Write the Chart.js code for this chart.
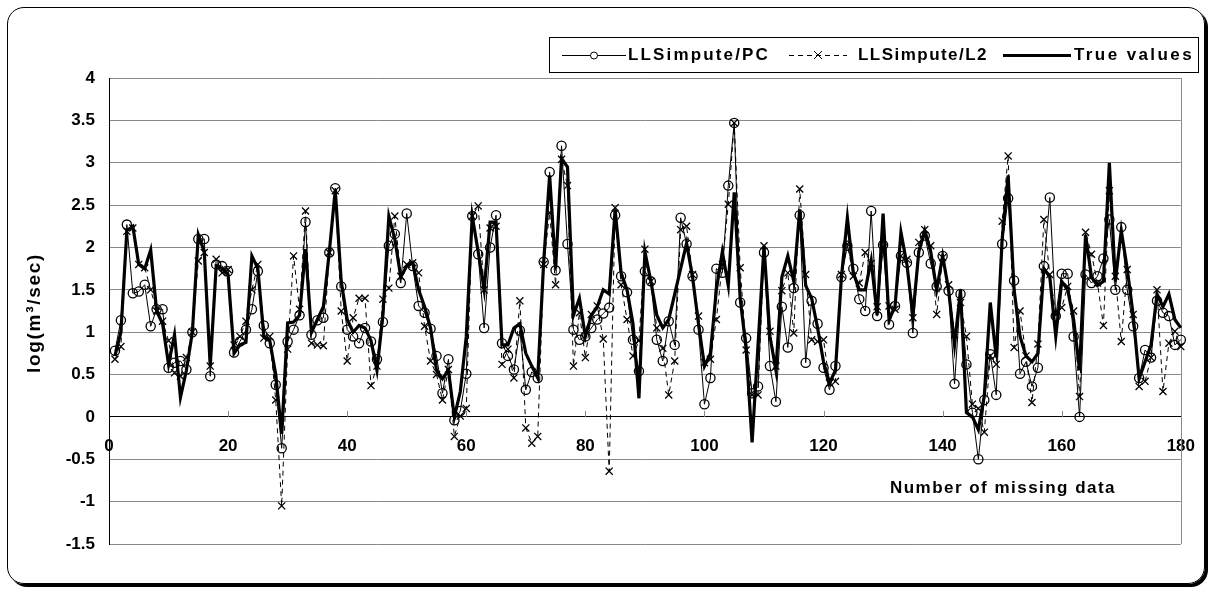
<!DOCTYPE html>
<html>
<head>
<meta charset="utf-8">
<script src="https://cdn.jsdelivr.net/npm/chart.js@4.4.1/dist/chart.umd.min.js"></script>
<style>
  html, body { margin: 0; padding: 0; background: #fff; }
  #frame {
    position: absolute; left: 7px; top: 7px;
    width: 1196px; height: 575px;
    border: 1.5px solid #000; border-radius: 17px;
    box-shadow: 3px 3px 0 #000;
  }
  #myChart { position: absolute; left: 0; top: 0; }
</style>
</head>
<body>
<div id="frame"></div>
<canvas id="myChart" width="1214" height="592"></canvas>
<script>
// values, index 1..181
var trueValues = [
  0.72, 1.0, 2.2, 2.25, 1.8, 1.75, 1.97, 1.25, 1.1, 0.62,
  0.97, 0.23, 0.55, 1.0, 2.15, 1.95, 0.6, 1.78, 1.75, 1.68,
  0.75, 0.85, 0.88, 1.9, 1.75, 0.95, 0.9, 0.5, -0.2, 1.11,
  1.12, 1.2, 1.98, 1.0, 1.15, 1.3, 1.95, 2.68, 1.6, 1.15,
  1.0, 1.08, 1.05, 0.9, 0.55, 1.2, 2.37, 2.1, 1.65, 1.78,
  1.82, 1.5, 1.3, 1.05, 0.55, 0.45, 0.55, 0.0, 0.3, 0.95,
  2.37, 1.95, 1.5, 2.3, 2.3, 0.85, 0.85, 1.05, 1.1, 0.75,
  0.6, 0.46, 1.83, 2.85, 1.75, 3.05, 2.95, 1.2, 1.4, 0.95,
  1.2, 1.3, 1.5, 1.45, 2.45, 1.7, 1.5, 1.1, 0.22, 1.95,
  1.6, 1.2, 1.05, 1.15, 1.45, 1.75, 2.05, 1.65, 1.1, 0.6,
  0.75, 1.5, 1.95, 1.55, 2.65, 1.4, 0.8, -0.3, 0.85, 2.02,
  0.95, 0.55, 1.65, 1.9, 1.6, 2.45, 1.55, 1.4, 1.05, 0.65,
  0.4, 0.55, 1.65, 2.35, 1.7, 1.5, 1.5, 1.85, 1.2, 2.4,
  1.15, 1.3, 2.18, 1.8, 1.2, 1.95, 2.2, 1.95, 1.5, 1.9,
  1.5, 0.85, 1.5, 0.05, 0.0, -0.15, 0.25, 1.35, 0.7, 2.1,
  2.85, 1.5, 0.95, 0.72, 0.65, 0.75, 1.75, 1.65, 0.95, 1.6,
  1.5, 1.15, 0.55, 2.15, 1.65, 1.55, 1.6, 3.0, 1.6, 2.2,
  1.75, 1.2, 0.45, 0.65, 0.85, 1.45, 1.3, 1.45, 1.15, 1.05,
  1.42
];
var pcValues = [
  0.78, 1.14, 2.27, 1.46, 1.48, 1.56, 1.07, 1.27, 1.27, 0.58,
  0.64, 0.66, 0.56, 1.0, 2.1, 2.1, 0.48, 1.8, 1.78, 1.72,
  0.76, 0.89, 1.03, 1.27, 1.72, 1.08, 0.87, 0.38, -0.37, 0.89,
  1.03, 1.2, 2.3, 0.97, 1.14, 1.17, 1.94, 2.7, 1.54, 1.03,
  0.95, 0.87, 1.05, 0.89, 0.68, 1.12, 2.02, 2.16, 1.58, 2.4,
  1.78, 1.31, 1.23, 1.04, 0.72, 0.28, 0.68, -0.04, 0.07, 0.51,
  2.37, 1.92, 1.05, 2.0, 2.38, 0.87, 0.72, 0.56, 1.02, 0.32,
  0.53, 0.46, 1.83, 2.89, 1.73, 3.2, 2.04, 1.03, 0.91, 0.95,
  1.05, 1.15, 1.22, 1.29, 2.38, 1.66, 1.47, 0.91, 0.54, 1.72,
  1.6, 0.91, 0.66, 1.13, 0.85, 2.35, 2.04, 1.66, 1.03, 0.15,
  0.46, 1.75, 1.7, 2.73, 3.47, 1.35, 0.93, 0.28, 0.36, 1.94,
  0.6, 0.18, 1.3, 0.82, 1.52, 2.38, 0.64, 1.37, 1.1, 0.58,
  0.32, 0.6, 1.65, 2.02, 1.75, 1.39, 1.25, 2.43, 1.19, 2.03,
  1.09, 1.31, 1.9, 1.82, 0.99, 1.94, 2.14, 1.81, 1.54, 1.9,
  1.49, 0.39, 1.45, 0.62, 0.05, -0.5, 0.2, 0.74, 0.26, 2.04,
  2.58, 1.61, 0.51, 0.65, 0.36, 0.58, 1.78, 2.59, 1.19, 1.69,
  1.69, 0.95, 0.0, 1.68, 1.58, 1.66, 1.87, 2.33, 1.5, 2.24,
  1.5, 1.07, 0.46, 0.79, 0.7, 1.37, 1.23, 1.19, 0.85, 0.91
];
var l2Values = [
  0.68, 0.83, 2.19, 2.23, 1.8, 1.76, 1.5, 1.25, 1.13, 0.9,
  0.52, 0.48, 0.7, 1.0, 1.84, 1.94, 0.6, 1.86, 1.7, 1.74,
  0.85, 0.95, 1.13, 1.5, 1.8, 0.93, 0.95, 0.2, -1.05, 0.8,
  1.9, 1.27, 2.43, 0.87, 0.85, 0.84, 1.94, 2.67, 1.25, 0.66,
  1.17, 1.4, 1.4, 0.37, 0.6, 1.39, 1.52, 2.37, 1.66, 1.8,
  1.82, 1.7, 1.07, 0.66, 0.5, 0.2, 0.56, -0.23, 0.01, 0.1,
  2.37, 2.49, 1.5, 2.23, 2.25, 0.62, 0.8, 0.46, 1.37, -0.13,
  -0.31, -0.23, 1.8, 2.41, 1.56, 3.04, 2.73, 0.6, 1.23, 0.7,
  1.21, 1.31, 0.92, -0.64, 2.47, 1.56, 1.15, 0.72, 0.9, 1.98,
  1.6, 1.05, 0.81, 0.26, 0.66, 2.21, 2.25, 1.68, 1.19, 0.64,
  0.68, 1.15, 1.8, 2.51, 3.47, 1.76, 0.79, 0.26, 0.26, 2.02,
  1.01, 0.6, 1.49, 1.7, 0.99, 2.69, 1.68, 0.91, 0.89, 0.91,
  0.4, 0.42, 1.68, 2.04, 1.66, 1.58, 1.94, 1.81, 1.3, 2.0,
  1.31, 1.27, 1.9, 1.86, 1.17, 2.06, 2.21, 2.02, 1.21, 1.88,
  1.56, 0.97, 1.35, 0.95, 0.15, 0.1, -0.18, 0.72, 0.62, 2.31,
  3.08, 0.82, 1.25, 0.72, 0.17, 0.86, 2.33, 1.68, 1.21, 1.29,
  1.54, 1.25, 0.24, 2.18, 1.92, 1.58, 1.08, 2.67, 1.66, 0.89,
  1.74, 1.21, 0.36, 0.42, 0.7, 1.5, 0.3, 0.87, 1.01, 0.83,
  0.36
];
var seriesNames = ['LLSimpute/PC', 'LLSimpute/L2', 'True values'];
var xTitle = 'Number of missing data';
var yTitle = 'log(m\u00B3/sec)';

var FONT = '"Liberation Sans", Arial, sans-serif';

function toPoints(vals) {
  return vals.map(function (v, i) { return { x: i + 1, y: v }; });
}

// draws text stretched to a given width (the original font is wide)
function fitText(ctx, s, x, y, w) {
  ctx.letterSpacing = '0px';
  var m = ctx.measureText(s).width;
  ctx.letterSpacing = ((w - m) / s.length) + 'px';
  ctx.fillText(s, x, y);
  ctx.letterSpacing = '0px';
}

var decor = {
  id: 'decor',
  beforeDatasetsDraw: function (chart) {
    var ctx = chart.ctx, a = chart.chartArea;
    var xs = chart.scales.x, ys = chart.scales.y;
    ctx.save();
    ctx.strokeStyle = '#888';
    ctx.lineWidth = 1;
    // right edge of plot area
    ctx.beginPath();
    ctx.moveTo(Math.round(a.right) + 0.5, a.top);
    ctx.lineTo(Math.round(a.right) + 0.5, a.bottom);
    ctx.stroke();
    // small tick marks above the zero line
    var y0 = ys.getPixelForValue(0);
    for (var v = 20; v <= 180; v += 20) {
      var px = Math.round(xs.getPixelForValue(v)) + 0.5;
      ctx.beginPath();
      ctx.moveTo(px, y0 - 6);
      ctx.lineTo(px, y0);
      ctx.stroke();
    }
    ctx.restore();
  },
  afterDraw: function (chart) {
    var ctx = chart.ctx;
    ctx.save();
    ctx.fillStyle = '#000';
    ctx.strokeStyle = '#000';
    ctx.font = 'bold 17px ' + FONT;
    ctx.textBaseline = 'middle';
    ctx.textAlign = 'left';

    // x title
    fitText(ctx, xTitle, 890, 488, 226);

    // y title
    ctx.save();
    ctx.translate(35, 313);
    ctx.rotate(-Math.PI / 2);
    ctx.font = 'bold 19px ' + FONT;
    fitText(ctx, yTitle, -60, 0, 120);
    ctx.restore();

    // legend
    var top = 37, bot = 72, mid = 55;
    ctx.fillStyle = '#fff';
    ctx.fillRect(549, top, 650, bot - top);
    ctx.lineWidth = 1;
    ctx.strokeRect(549.5, top + 0.5, 649, bot - top);
    ctx.fillStyle = '#000';

    // PC sample
    ctx.lineWidth = 1;
    ctx.beginPath(); ctx.moveTo(562, mid + 0.5); ctx.lineTo(626, mid + 0.5); ctx.stroke();
    ctx.fillStyle = '#fff';
    ctx.beginPath(); ctx.arc(594, mid + 0.5, 3.5, 0, Math.PI * 2); ctx.fill(); ctx.stroke();
    ctx.fillStyle = '#000';
    fitText(ctx, seriesNames[0], 628, mid, 142);

    // L2 sample
    ctx.setLineDash([5, 4]);
    ctx.beginPath(); ctx.moveTo(789, mid + 0.5); ctx.lineTo(847, mid + 0.5); ctx.stroke();
    ctx.setLineDash([]);
    ctx.beginPath();
    ctx.moveTo(814, mid - 4); ctx.lineTo(822, mid + 4);
    ctx.moveTo(822, mid - 4); ctx.lineTo(814, mid + 4);
    ctx.stroke();
    fitText(ctx, seriesNames[1], 858, mid, 130);

    // true sample
    ctx.lineWidth = 3;
    ctx.beginPath(); ctx.moveTo(1003, mid + 0.5); ctx.lineTo(1071, mid + 0.5); ctx.stroke();
    fitText(ctx, seriesNames[2], 1074, mid, 120);

    ctx.restore();
  }
};

var chart = new Chart(document.getElementById('myChart'), {
  type: 'line',
  data: {
    datasets: [
      {
        label: seriesNames[2],
        data: toPoints(trueValues),
        borderColor: '#000',
        borderWidth: 3.2,
        pointRadius: 0,
        clip: false,
        order: 0
      },
      {
        label: seriesNames[0],
        data: toPoints(pcValues),
        borderColor: '#000',
        borderWidth: 1,
        pointStyle: 'circle',
        pointRadius: 4.6,
        pointBorderWidth: 1.3,
        pointBorderColor: '#000',
        pointBackgroundColor: 'rgba(0,0,0,0)',
        clip: false,
        order: 2
      },
      {
        label: seriesNames[1],
        data: toPoints(l2Values),
        borderColor: '#000',
        borderWidth: 1,
        borderDash: [5, 4],
        pointStyle: 'crossRot',
        pointRadius: 5,
        pointBorderWidth: 1.3,
        pointBorderColor: '#000',
        clip: false,
        order: 1
      }
    ]
  },
  options: {
    responsive: false,
    animation: false,
    layout: { padding: { left: 0, top: 78, right: 22, bottom: 48 } },
    plugins: { legend: { display: false }, tooltip: { enabled: false } },
    elements: { line: { tension: 0 } },
    scales: {
      x: {
        type: 'linear',
        position: { y: 0 },
        min: 0,
        max: 180,
        ticks: {
          stepSize: 20,
          color: '#000',
          padding: 19,
          maxRotation: 0,
          font: { family: FONT, size: 17, weight: 'bold' }
        },
        grid: { display: false, drawTicks: false },
        border: { display: true, color: '#000', width: 1 }
      },
      y: {
        min: -1.5,
        max: 4,
        afterFit: function (scale) { scale.width = 109; },
        ticks: {
          stepSize: 0.5,
          color: '#000',
          padding: 14,
          font: { family: FONT, size: 17, weight: 'bold' },
          callback: function (v) { return String(v); }
        },
        grid: { color: '#888', lineWidth: 1, drawTicks: false },
        border: { display: true, color: '#000', width: 1 }
      }
    }
  },
  plugins: [decor]
});
</script>
</body>
</html>
